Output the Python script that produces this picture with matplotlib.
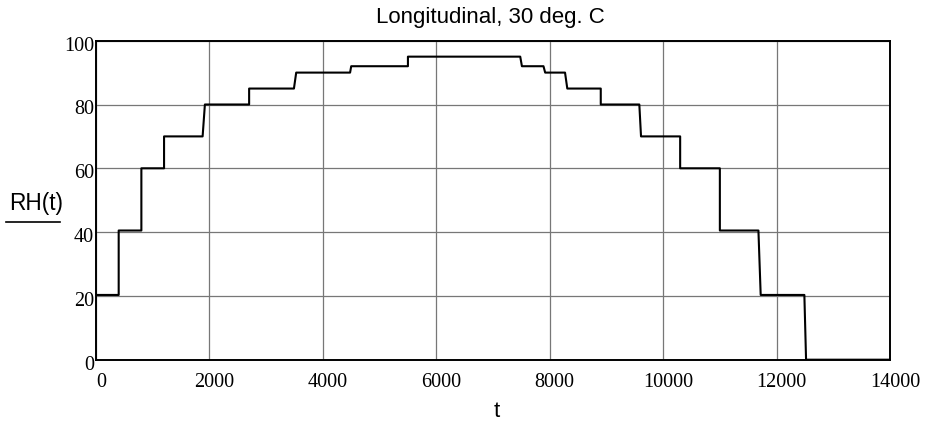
import matplotlib
matplotlib.use("Agg")
import matplotlib.pyplot as plt
from matplotlib.lines import Line2D
from matplotlib.transforms import ScaledTranslation

# Data (corner points of the stepped RH profile)
t_points = [0, 400, 400, 800, 800, 1200, 1200, 1880, 1920, 2700, 2700, 3490, 3530,
            4480, 4500, 5500, 5500, 7480, 7510, 7890, 7920, 8270, 8310, 8900, 8900,
            9580, 9610, 10300, 10300, 11000, 11000, 11680, 11720, 12490, 12520, 14000]
rh_points = [20.3, 20.3, 40.5, 40.5, 60, 60, 70, 70, 80, 80, 85, 85, 90,
             90, 92, 92, 95, 95, 92, 92, 90, 90, 85, 85, 80,
             80, 70, 70, 60, 60, 40.5, 40.5, 20.3, 20.3, 0, 0]
x_ticks = [0, 2000, 4000, 6000, 8000, 10000, 12000, 14000]
y_ticks = [0, 20, 40, 60, 80, 100]
title = "Longitudinal, 30 deg. C"
x_label = "t"
y_label = "RH(t)"

W, H = 934, 427
fig = plt.figure(figsize=(W / 100, H / 100), dpi=100)
left, right, top, bottom = 96, 890, 41.7, 360.7
ax = fig.add_axes([left / W, 1 - bottom / H, (right - left) / W, (bottom - top) / H])

ax.plot(t_points, rh_points, color="black", linewidth=1.5, zorder=3)
ax.set_xlim(0, 14000)
ax.set_ylim(0, 100)
ax.set_xticks(x_ticks)
ax.set_yticks(y_ticks)
ax.grid(True, color="#777777", linewidth=0.9, zorder=1)
ax.set_axisbelow(True)
for s in ax.spines.values():
    s.set_linewidth(1.4)
    s.set_color("black")

serif = "Liberation Serif"
ax.tick_params(axis="both", length=0, labelsize=14.5)
ax.tick_params(axis="x", pad=9)
ax.tick_params(axis="y", pad=1.5)
for lab in ax.get_xticklabels():
    lab.set_fontfamily(serif)
    lab.set_horizontalalignment("center")
    lab.set_transform(lab.get_transform() + ScaledTranslation(5 / 100, 0, fig.dpi_scale_trans))
for lab in ax.get_yticklabels():
    lab.set_fontfamily(serif)
    lab.set_transform(lab.get_transform() + ScaledTranslation(0, -2 / 100, fig.dpi_scale_trans))

sans = "Liberation Sans"
fig.text(490 / W, 1 - 18 / H, title, ha="center", va="center", fontsize=16, family=sans)
fig.text(497 / W, 1 - 412 / H, x_label, ha="center", va="center", fontsize=16, family=sans)
fig.text(36 / W, 1 - 204 / H, y_label, ha="center", va="center", fontsize=16.3, family=sans)
fig.add_artist(Line2D([6 / W, 60 / W], [1 - 222.7 / H, 1 - 222.7 / H],
                      color="black", linewidth=1.2, transform=fig.transFigure))

fig.savefig("out.png", dpi=100)
